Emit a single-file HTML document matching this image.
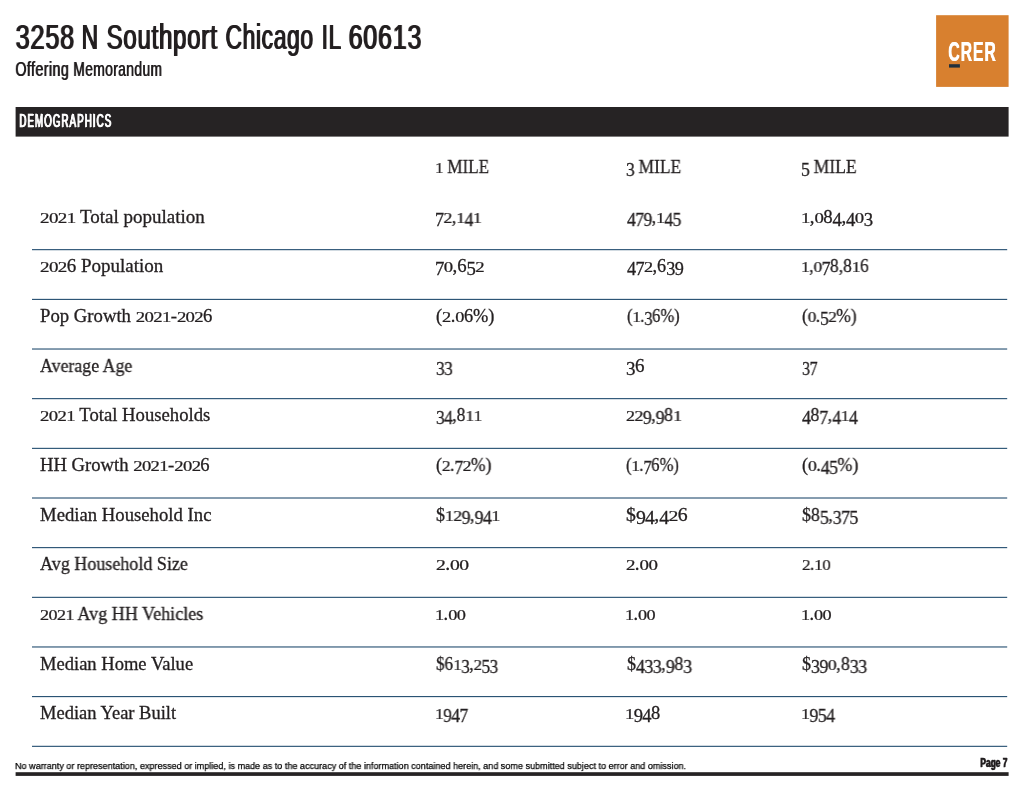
<!DOCTYPE html>
<html><head><meta charset="utf-8"><title>Offering Memorandum</title>
<style>
html,body{margin:0;padding:0;background:#fff;}
body{width:1024px;height:792px;position:relative;overflow:hidden;font-family:"Liberation Sans",sans-serif;}
.t{position:absolute;white-space:nowrap;line-height:1;transform-origin:0 0;margin:0;padding:0;will-change:transform;}
.s{font-family:"Liberation Serif",serif;-webkit-text-stroke:0.3px #231f20;}
.s i{font-style:normal;display:inline-block;letter-spacing:-0.6px;}
.s i.a{transform:scaleY(0.77);transform-origin:0 85%;}
.s i.b{transform:translateY(3px);}
</style></head><body>
<svg width="1024" height="792" style="position:absolute;left:0;top:0"><rect x="936.1" y="15.2" width="72.5" height="71.7" fill="#d8802f"/><rect x="949" y="64.2" width="10.9" height="3.4" fill="#22303c"/><rect x="15.6" y="107" width="993" height="29.6" fill="#262324"/><rect x="15.6" y="772.2" width="993" height="3.7" fill="#262324"/><line x1="32" x2="1007.2" y1="249.70" y2="249.70" stroke="#0c3b61" stroke-width="1.0"/><line x1="32" x2="1007.2" y1="299.36" y2="299.36" stroke="#0c3b61" stroke-width="1.0"/><line x1="32" x2="1007.2" y1="349.02" y2="349.02" stroke="#0c3b61" stroke-width="1.0"/><line x1="32" x2="1007.2" y1="398.68" y2="398.68" stroke="#0c3b61" stroke-width="1.0"/><line x1="32" x2="1007.2" y1="448.34" y2="448.34" stroke="#0c3b61" stroke-width="1.0"/><line x1="32" x2="1007.2" y1="498.00" y2="498.00" stroke="#0c3b61" stroke-width="1.0"/><line x1="32" x2="1007.2" y1="547.66" y2="547.66" stroke="#0c3b61" stroke-width="1.0"/><line x1="32" x2="1007.2" y1="597.32" y2="597.32" stroke="#0c3b61" stroke-width="1.0"/><line x1="32" x2="1007.2" y1="646.98" y2="646.98" stroke="#0c3b61" stroke-width="1.0"/><line x1="32" x2="1007.2" y1="696.64" y2="696.64" stroke="#0c3b61" stroke-width="1.0"/><line x1="32" x2="1007.2" y1="746.30" y2="746.30" stroke="#0c3b61" stroke-width="1.0"/></svg>
<div id="title0" class="t" style="left:15.00px;top:20.46px;font-size:35.8px;color:#231f20;transform:scale(0.7025,1);letter-spacing:1.2px;text-shadow:2.0px 0 0 #231f20;">3258</div>
<div id="title1" class="t" style="left:81.00px;top:20.46px;font-size:35.8px;color:#231f20;transform:scale(0.6303,1);letter-spacing:1.2px;text-shadow:2.0px 0 0 #231f20;">N</div>
<div id="title2" class="t" style="left:106.00px;top:20.46px;font-size:35.8px;color:#231f20;transform:scale(0.6678,1);letter-spacing:1.2px;text-shadow:2.0px 0 0 #231f20;">Southport</div>
<div id="title3" class="t" style="left:225.00px;top:20.46px;font-size:35.8px;color:#231f20;transform:scale(0.6302,1);letter-spacing:1.2px;text-shadow:2.0px 0 0 #231f20;">Chicago</div>
<div id="title4" class="t" style="left:321.00px;top:20.46px;font-size:35.8px;color:#231f20;transform:scale(0.6201,1);letter-spacing:1.2px;text-shadow:2.0px 0 0 #231f20;">IL</div>
<div id="title5" class="t" style="left:348.00px;top:20.46px;font-size:35.8px;color:#231f20;transform:scale(0.6959,1);letter-spacing:1.2px;text-shadow:2.0px 0 0 #231f20;">60613</div>
<div id="sub0" class="t" style="left:15.00px;top:58.52px;font-size:20.9px;color:#231f20;transform:scale(0.6841,1);letter-spacing:0.6px;text-shadow:1.1px 0 0 #231f20;">Offering</div>
<div id="sub1" class="t" style="left:73.00px;top:58.52px;font-size:20.9px;color:#231f20;transform:scale(0.6598,1);letter-spacing:0.6px;text-shadow:1.1px 0 0 #231f20;">Memorandum</div>
<div id="demo" class="t" style="left:19.00px;top:111.66px;font-size:18.7px;color:#ffffff;transform:scale(0.5227,1);letter-spacing:2.0px;-webkit-text-stroke:0.5px #ffffff;text-shadow:1.7px 0 0 #ffffff;">DEMOGRAPHICS</div>
<div id="crer" class="t" style="left:948.00px;top:38.38px;font-size:27.9px;color:#ffffff;transform:scale(0.5685,1);font-weight:700;letter-spacing:1.5px;text-shadow:1.0px 0 0 #ffffff;">CRER</div>
<div id="foot" class="t" style="left:15.00px;top:760.93px;font-size:9.5px;color:#000000;transform:scale(0.9534,1);-webkit-text-stroke:0.25px #000000;">No warranty or representation, expressed or implied, is made as to the accuracy of the information contained herein, and some submitted subject to error and omission.</div>
<div id="page" class="t" style="left:980.00px;top:756.70px;font-size:12.6px;color:#231f20;transform:scale(0.6695,1);font-weight:700;-webkit-text-stroke:0.3px #231f20;text-shadow:1.0px 0 0 #231f20;">Page 7</div>
<div id="h1" class="t s" style="left:435.00px;top:157.83px;font-size:18px;color:#231f20;transform:scale(0.9493,1);"><i class="a">1</i> MILE</div>
<div id="h2" class="t s" style="left:626.00px;top:157.83px;font-size:18px;color:#231f20;transform:scale(0.9686,1);"><i class="b">3</i> MILE</div>
<div id="h3" class="t s" style="left:801.00px;top:157.83px;font-size:18px;color:#231f20;transform:scale(0.9763,1);"><i class="b">5</i> MILE</div>
<div id="r0l" class="t s" style="left:40.00px;top:207.76px;font-size:18.2px;color:#231f20;transform:scale(1.0454,1);"><i class="a">2</i><i class="a">0</i><i class="a">2</i><i class="a">1</i> Total population</div>
<div id="r0c0" class="t s" style="left:435.00px;top:207.76px;font-size:18.2px;color:#231f20;transform:scale(0.9846,1);"><i class="b">7</i><i class="a">2</i>,<i class="a">1</i><i class="b">4</i><i class="a">1</i></div>
<div id="r0c1" class="t s" style="left:627.00px;top:207.76px;font-size:18.2px;color:#231f20;transform:scale(0.9694,1);"><i class="b">4</i><i class="b">7</i><i class="b">9</i>,<i class="a">1</i><i class="b">4</i><i class="b">5</i></div>
<div id="r0c2" class="t s" style="left:801.00px;top:207.76px;font-size:18.2px;color:#231f20;transform:scale(1.0321,1);"><i class="a">1</i>,<i class="a">0</i>8<i class="b">4</i>,<i class="b">4</i><i class="a">0</i><i class="b">3</i></div>
<div id="r1l" class="t s" style="left:40.00px;top:256.76px;font-size:18.2px;color:#231f20;transform:scale(1.0456,1);"><i class="a">2</i><i class="a">0</i><i class="a">2</i>6 Population</div>
<div id="r1c0" class="t s" style="left:435.00px;top:256.76px;font-size:18.2px;color:#231f20;transform:scale(1.0313,1);"><i class="b">7</i><i class="a">0</i>,6<i class="b">5</i><i class="a">2</i></div>
<div id="r1c1" class="t s" style="left:627.00px;top:256.76px;font-size:18.2px;color:#231f20;transform:scale(1.0023,1);"><i class="b">4</i><i class="b">7</i><i class="a">2</i>,6<i class="b">3</i><i class="b">9</i></div>
<div id="r1c2" class="t s" style="left:801.00px;top:256.76px;font-size:18.2px;color:#231f20;transform:scale(0.9625,1);"><i class="a">1</i>,<i class="a">0</i><i class="b">7</i>8,8<i class="a">1</i>6</div>
<div id="r2l" class="t s" style="left:40.00px;top:306.76px;font-size:18.2px;color:#231f20;transform:scale(1.0289,1);">Pop Growth <i class="a">2</i><i class="a">0</i><i class="a">2</i><i class="a">1</i>-<i class="a">2</i><i class="a">0</i><i class="a">2</i>6</div>
<div id="r2c0" class="t s" style="left:436.00px;top:306.76px;font-size:18.2px;color:#231f20;transform:scale(1.0097,1);">(<i class="a">2</i>.<i class="a">0</i>6%)</div>
<div id="r2c1" class="t s" style="left:627.00px;top:306.76px;font-size:18.2px;color:#231f20;transform:scale(0.9104,1);">(<i class="a">1</i>.<i class="b">3</i>6%)</div>
<div id="r2c2" class="t s" style="left:802.00px;top:306.76px;font-size:18.2px;color:#231f20;transform:scale(0.9529,1);">(<i class="a">0</i>.<i class="b">5</i><i class="a">2</i>%)</div>
<div id="r3l" class="t s" style="left:40.00px;top:356.76px;font-size:18.2px;color:#231f20;transform:scale(0.9812,1);">Average Age</div>
<div id="r3c0" class="t s" style="left:436.00px;top:356.76px;font-size:18.2px;color:#231f20;transform:scale(0.9539,1);"><i class="b">3</i><i class="b">3</i></div>
<div id="r3c1" class="t s" style="left:626.00px;top:356.76px;font-size:18.2px;color:#231f20;transform:scale(1.0457,1);"><i class="b">3</i>6</div>
<div id="r3c2" class="t s" style="left:802.00px;top:356.76px;font-size:18.2px;color:#231f20;transform:scale(0.8913,1);"><i class="b">3</i><i class="b">7</i></div>
<div id="r4l" class="t s" style="left:40.00px;top:405.76px;font-size:18.2px;color:#231f20;transform:scale(1.0277,1);"><i class="a">2</i><i class="a">0</i><i class="a">2</i><i class="a">1</i> Total Households</div>
<div id="r4c0" class="t s" style="left:436.00px;top:405.76px;font-size:18.2px;color:#231f20;transform:scale(0.9583,1);"><i class="b">3</i><i class="b">4</i>,8<i class="a">1</i><i class="a">1</i></div>
<div id="r4c1" class="t s" style="left:626.00px;top:405.76px;font-size:18.2px;color:#231f20;transform:scale(0.9873,1);"><i class="a">2</i><i class="a">2</i><i class="b">9</i>,<i class="b">9</i>8<i class="a">1</i></div>
<div id="r4c2" class="t s" style="left:802.00px;top:405.76px;font-size:18.2px;color:#231f20;transform:scale(0.9844,1);"><i class="b">4</i>8<i class="b">7</i>,<i class="b">4</i><i class="a">1</i><i class="b">4</i></div>
<div id="r5l" class="t s" style="left:40.00px;top:455.76px;font-size:18.2px;color:#231f20;transform:scale(1.0247,1);">HH Growth <i class="a">2</i><i class="a">0</i><i class="a">2</i><i class="a">1</i>-<i class="a">2</i><i class="a">0</i><i class="a">2</i>6</div>
<div id="r5c0" class="t s" style="left:436.00px;top:455.76px;font-size:18.2px;color:#231f20;transform:scale(0.9680,1);">(<i class="a">2</i>.<i class="b">7</i><i class="a">2</i>%)</div>
<div id="r5c1" class="t s" style="left:626.00px;top:455.76px;font-size:18.2px;color:#231f20;transform:scale(0.9143,1);">(<i class="a">1</i>.<i class="b">7</i>6%)</div>
<div id="r5c2" class="t s" style="left:802.00px;top:455.76px;font-size:18.2px;color:#231f20;transform:scale(0.9845,1);">(<i class="a">0</i>.<i class="b">4</i><i class="b">5</i>%)</div>
<div id="r6l" class="t s" style="left:40.00px;top:505.76px;font-size:18.2px;color:#231f20;transform:scale(1.0286,1);">Median Household Inc</div>
<div id="r6c0" class="t s" style="left:436.00px;top:505.76px;font-size:18.2px;color:#231f20;transform:scale(0.9842,1);">$<i class="a">1</i><i class="a">2</i><i class="b">9</i>,<i class="b">9</i><i class="b">4</i><i class="a">1</i></div>
<div id="r6c1" class="t s" style="left:626.00px;top:505.76px;font-size:18.2px;color:#231f20;transform:scale(1.0860,1);">$<i class="b">9</i><i class="b">4</i>,<i class="b">4</i><i class="a">2</i>6</div>
<div id="r6c2" class="t s" style="left:802.00px;top:505.76px;font-size:18.2px;color:#231f20;transform:scale(0.9832,1);">$8<i class="b">5</i>,<i class="b">3</i><i class="b">7</i><i class="b">5</i></div>
<div id="r7l" class="t s" style="left:40.00px;top:554.76px;font-size:18.2px;color:#231f20;transform:scale(0.9918,1);">Avg Household Size</div>
<div id="r7c0" class="t s" style="left:436.00px;top:554.76px;font-size:18.2px;color:#231f20;transform:scale(1.0810,1);"><i class="a">2</i>.<i class="a">0</i><i class="a">0</i></div>
<div id="r7c1" class="t s" style="left:626.00px;top:554.76px;font-size:18.2px;color:#231f20;transform:scale(1.0410,1);"><i class="a">2</i>.<i class="a">0</i><i class="a">0</i></div>
<div id="r7c2" class="t s" style="left:802.00px;top:554.76px;font-size:18.2px;color:#231f20;transform:scale(0.9411,1);"><i class="a">2</i>.<i class="a">1</i><i class="a">0</i></div>
<div id="r8l" class="t s" style="left:40.00px;top:604.76px;font-size:18.2px;color:#231f20;transform:scale(0.9951,1);"><i class="a">2</i><i class="a">0</i><i class="a">2</i><i class="a">1</i> Avg HH Vehicles</div>
<div id="r8c0" class="t s" style="left:435.00px;top:604.76px;font-size:18.2px;color:#231f20;transform:scale(1.0089,1);"><i class="a">1</i>.<i class="a">0</i><i class="a">0</i></div>
<div id="r8c1" class="t s" style="left:625.00px;top:604.76px;font-size:18.2px;color:#231f20;transform:scale(1.0018,1);"><i class="a">1</i>.<i class="a">0</i><i class="a">0</i></div>
<div id="r8c2" class="t s" style="left:801.00px;top:604.76px;font-size:18.2px;color:#231f20;transform:scale(1.0018,1);"><i class="a">1</i>.<i class="a">0</i><i class="a">0</i></div>
<div id="r9l" class="t s" style="left:40.00px;top:654.76px;font-size:18.2px;color:#231f20;transform:scale(1.0196,1);">Median Home Value</div>
<div id="r9c0" class="t s" style="left:436.00px;top:654.76px;font-size:18.2px;color:#231f20;transform:scale(0.9440,1);">$6<i class="a">1</i><i class="b">3</i>,<i class="a">2</i><i class="b">5</i><i class="b">3</i></div>
<div id="r9c1" class="t s" style="left:627.00px;top:654.76px;font-size:18.2px;color:#231f20;transform:scale(0.9900,1);">$<i class="b">4</i><i class="b">3</i><i class="b">3</i>,<i class="b">9</i>8<i class="b">3</i></div>
<div id="r9c2" class="t s" style="left:802.00px;top:654.76px;font-size:18.2px;color:#231f20;transform:scale(0.9900,1);">$<i class="b">3</i><i class="b">9</i><i class="a">0</i>,8<i class="b">3</i><i class="b">3</i></div>
<div id="r10l" class="t s" style="left:40.00px;top:703.76px;font-size:18.2px;color:#231f20;transform:scale(1.0167,1);">Median Year Built</div>
<div id="r10c0" class="t s" style="left:435.00px;top:703.76px;font-size:18.2px;color:#231f20;transform:scale(0.9592,1);"><i class="a">1</i><i class="b">9</i><i class="b">4</i><i class="b">7</i></div>
<div id="r10c1" class="t s" style="left:625.00px;top:703.76px;font-size:18.2px;color:#231f20;transform:scale(1.0200,1);"><i class="a">1</i><i class="b">9</i><i class="b">4</i>8</div>
<div id="r10c2" class="t s" style="left:801.00px;top:703.76px;font-size:18.2px;color:#231f20;transform:scale(0.9851,1);"><i class="a">1</i><i class="b">9</i><i class="b">5</i><i class="b">4</i></div>
</body></html>
